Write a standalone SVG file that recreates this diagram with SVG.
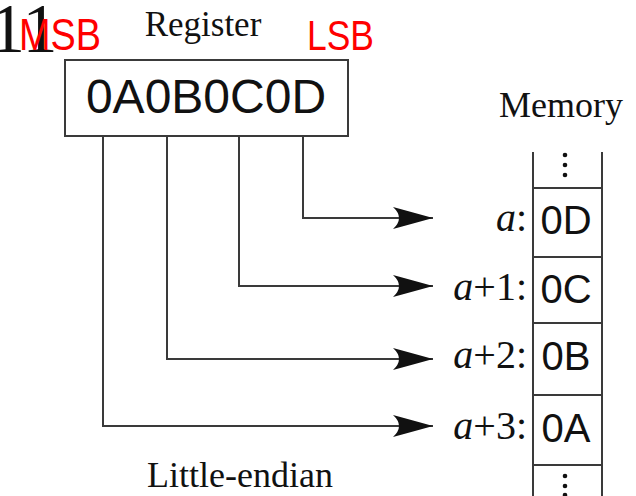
<svg xmlns="http://www.w3.org/2000/svg" width="636" height="496" viewBox="0 0 636 496">
<style>
.serif{font-family:"Liberation Serif","Times New Roman",serif;fill:#111}
.sans{font-family:"Liberation Sans",Arial,sans-serif;fill:#111}
.red{font-family:"Liberation Sans",Arial,sans-serif;fill:#ff0000}
.ln{fill:none;stroke:#3a3a3a;stroke-width:2}
.dot{fill:#111}
</style>
<defs>
<marker id="ah" viewBox="0 0 40 22" refX="40" refY="11" markerWidth="40" markerHeight="22" markerUnits="userSpaceOnUse" orient="auto">
<path d="M40,11 Q22,6 0,0 Q12,11 0,22 Q22,16 40,11 Z" fill="#111"/>
</marker>
</defs>
<rect width="636" height="496" fill="#fff"/>
<text class="serif" x="-10" y="52" font-size="70">11</text>
<text class="red" x="19" y="50" font-size="44" textLength="82" lengthAdjust="spacingAndGlyphs">MSB</text>
<text class="red" x="307" y="50" font-size="42" textLength="67" lengthAdjust="spacingAndGlyphs">LSB</text>
<text class="serif" x="203" y="36" font-size="35" text-anchor="middle">Register</text>
<g id="register">
<rect class="ln" x="65" y="60" width="283" height="76"/>
<text class="sans" x="206" y="113" font-size="48" text-anchor="middle">0A0B0C0D</text>
</g>
<g id="memory">
<text class="serif" x="561" y="117" font-size="36" text-anchor="middle">Memory</text>
<path class="ln" d="M533,152 V496 M602,152 V496 M533,188 H602 M533,257 H602 M533,323 H602 M533,395 H602 M533,465 H602"/>
<circle class="dot" cx="565" cy="155" r="2.3"/>
<circle class="dot" cx="565" cy="165" r="2.3"/>
<circle class="dot" cx="565" cy="175" r="2.3"/>
<circle class="dot" cx="565" cy="476" r="2.3"/>
<circle class="dot" cx="565" cy="486" r="2.3"/>
<circle class="dot" cx="565" cy="495" r="2.3"/>
</g>
<g id="cell0">
<text class="serif" x="527" y="231" font-size="40" text-anchor="end"><tspan font-style="italic">a</tspan>:</text>
<text class="sans" x="566" y="234" font-size="40" text-anchor="middle">0D</text>
</g>
<g id="cell1">
<text class="serif" x="527" y="300" font-size="40" text-anchor="end"><tspan font-style="italic">a</tspan>+1:</text>
<text class="sans" x="566" y="303" font-size="40" text-anchor="middle">0C</text>
</g>
<g id="cell2">
<text class="serif" x="527" y="368" font-size="40" text-anchor="end"><tspan font-style="italic">a</tspan>+2:</text>
<text class="sans" x="566" y="370" font-size="40" text-anchor="middle">0B</text>
</g>
<g id="cell3">
<text class="serif" x="527" y="439" font-size="40" text-anchor="end"><tspan font-style="italic">a</tspan>+3:</text>
<text class="sans" x="566" y="442" font-size="40" text-anchor="middle">0A</text>
</g>
<g id="connectors">
<path class="ln" d="M303,136 V218 H433" marker-end="url(#ah)"/>
<path class="ln" d="M239,136 V286 H433" marker-end="url(#ah)"/>
<path class="ln" d="M167,136 V359 H433" marker-end="url(#ah)"/>
<path class="ln" d="M103,136 V426 H433" marker-end="url(#ah)"/>
</g>
<text class="serif" x="240" y="487" font-size="36" text-anchor="middle">Little-endian</text>
</svg>
